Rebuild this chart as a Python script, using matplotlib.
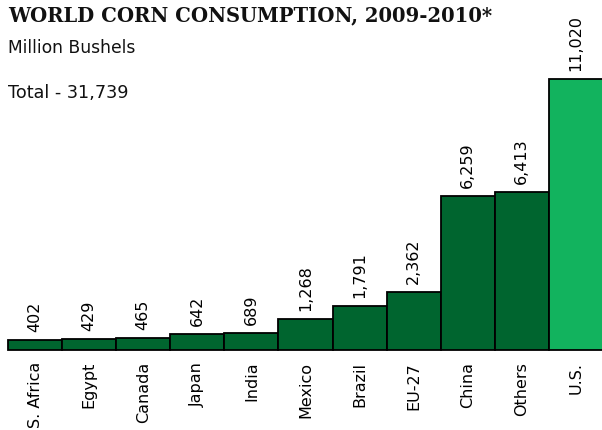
import matplotlib
matplotlib.use("Agg")
import matplotlib.pyplot as plt

categories = ["S. Africa", "Egypt", "Canada", "Japan", "India", "Mexico",
              "Brazil", "EU-27", "China", "Others", "U.S."]
values = [402, 429, 465, 642, 689, 1268, 1791, 2362, 6259, 6413, 11020]
value_labels = ["402", "429", "465", "642", "689", "1,268", "1,791",
                "2,362", "6,259", "6,413", "11,020"]
title = "WORLD CORN CONSUMPTION, 2009-2010*"
subtitle = "Million Bushels"
total_text = "Total - 31,739"

W, H = 602, 431
fig = plt.figure(figsize=(W / 100, H / 100), dpi=100)
fig.patch.set_facecolor("white")

# axes: x from 8px to 603px, baseline at y=351px, top at y=0
ax = fig.add_axes([8 / W, (H - 350.7) / H, 595 / W, 350.7 / H])
ax.set_xlim(-0.5, len(categories) - 0.5)
ax.set_ylim(0, 350.7 / 0.02456)
ax.axis("off")

dark = "#00652f"
light = "#12b35e"
colors = [dark] * (len(categories) - 1) + [light]
ax.bar(range(len(categories)), values, width=1.0, color=colors,
       edgecolor="black", linewidth=1.3, clip_on=False)

for i, (v, lab) in enumerate(zip(values, value_labels)):
    ax.annotate(lab, (i, v), xytext=(0, 6.5), textcoords="offset points",
                rotation=90, ha="center", va="bottom", fontsize=11.5,
                color="black", family="DejaVu Sans")
    ax.annotate(categories[i], (i, 0), xytext=(0, -8), textcoords="offset points",
                rotation=90, ha="center", va="top", fontsize=11.5,
                color="black", family="DejaVu Sans", annotation_clip=False)

fig.text(8 / W, 1 - 5 / H, title, ha="left", va="top", fontsize=14.1,
         fontweight="bold", family="DejaVu Serif", color="#111111")
fig.text(8 / W, 1 - 39 / H, subtitle, ha="left", va="top", fontsize=12.3,
         family="DejaVu Sans", color="#111111")
fig.text(8 / W, 1 - 84 / H, total_text, ha="left", va="top", fontsize=12.7,
         family="DejaVu Sans", color="#111111")

fig.savefig("out.png", dpi=100, facecolor="white")
